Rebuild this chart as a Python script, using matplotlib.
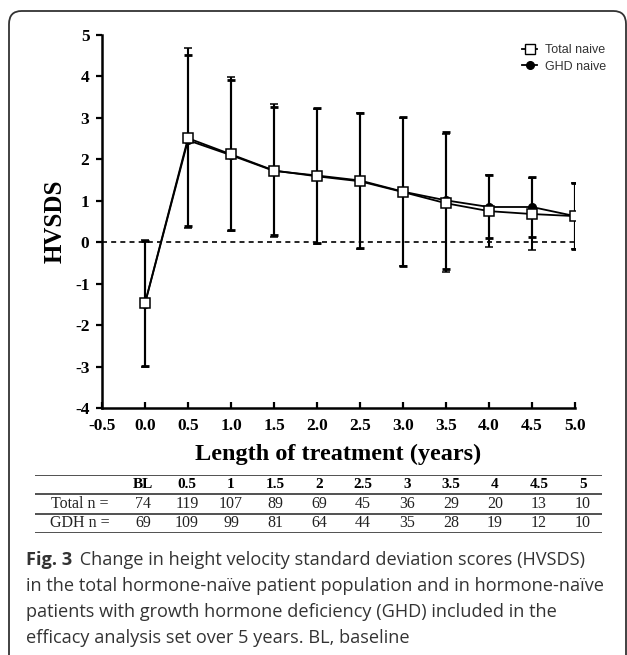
import numpy as np
import matplotlib.pyplot as plt
from matplotlib.patches import FancyBboxPatch
from matplotlib.lines import Line2D

# data
years = [0.0, 0.5, 1.0, 1.5, 2.0, 2.5, 3.0, 3.5, 4.0, 4.5, 5.0]
total_mean = [-1.47, 2.51, 2.12, 1.73, 1.59, 1.47, 1.21, 0.94, 0.75, 0.68, 0.63]
total_sd = [1.53, 2.17, 1.86, 1.61, 1.63, 1.64, 1.79, 1.66, 0.87, 0.87, 0.79]
ghd_mean = [-1.48, 2.46, 2.10, 1.72, 1.61, 1.49, 1.22, 1.01, 0.85, 0.85, 0.63]
ghd_sd = [1.50, 2.06, 1.81, 1.55, 1.63, 1.64, 1.80, 1.66, 0.76, 0.73, 0.79]

col_labels = ["BL", "0.5", "1", "1.5", "2", "2.5", "3", "3.5", "4", "4.5", "5"]
row_labels = ["Total n =", "GDH n ="]
total_n = [74, 119, 107, 89, 69, 45, 36, 29, 20, 13, 10]
ghd_n = [69, 109, 99, 81, 64, 44, 35, 28, 19, 12, 10]

xticks = [-0.5, 0.0, 0.5, 1.0, 1.5, 2.0, 2.5, 3.0, 3.5, 4.0, 4.5, 5.0]
yticks = [-4, -3, -2, -1, 0, 1, 2, 3, 4, 5]

caption_bold = "Fig. 3"
caption_lines = [
    " Change in height velocity standard deviation scores (HVSDS)",
    "in the total hormone-naïve patient population and in hormone-naïve",
    "patients with growth hormone deficiency (GHD) included in the",
    "efficacy analysis set over 5 years. BL, baseline",
]

W, H = 627, 655
fig = plt.figure(figsize=(W / 100, H / 100), dpi=100)
serif = "Liberation Serif"


def fx(px):
    return px / W


def fy(py):
    return 1 - py / H


# rounded frame
frame = FancyBboxPatch((fx(9), fy(680)), fx(626) - fx(9), fy(11) - fy(680),
                       boxstyle="round,pad=0,rounding_size=0.02",
                       transform=fig.transFigure, fill=False,
                       edgecolor="#333333", linewidth=1.3)
fig.add_artist(frame)

ax = fig.add_axes([fx(102), fy(408), fx(575) - fx(102), fy(35) - fy(408)])

ax.axhline(0, color="black", lw=1.2, linestyle=(0, (3, 2.5)), zorder=1)

ax.errorbar(years, ghd_mean, yerr=ghd_sd, color="black", lw=1.3,
            elinewidth=1.5, capsize=3.2, capthick=2.0, marker="o",
            markersize=5.5, markerfacecolor="black", markeredgecolor="black",
            zorder=2)
ax.errorbar(years, total_mean, yerr=total_sd, color="black", lw=1.3,
            elinewidth=1.5, capsize=3.2, capthick=2.0, marker="s",
            markersize=7, markerfacecolor="white", markeredgecolor="black",
            markeredgewidth=1.1, zorder=3)

ax.set_xlim(-0.5, 5.0)
ax.set_ylim(-4, 5)
ax.spines["top"].set_visible(False)
ax.spines["right"].set_visible(False)
ax.spines["left"].set_linewidth(1.8)
ax.spines["bottom"].set_linewidth(1.8)
ax.set_xticks(xticks)
ax.set_xticklabels([f"{t:.1f}" for t in xticks])
ax.set_yticks(yticks)
ax.set_yticklabels([str(t) for t in yticks])
ax.tick_params(axis="x", direction="in", length=4, width=1.6, pad=7)
ax.tick_params(axis="y", direction="out", length=4, width=1.6, pad=5)
for lab in ax.get_xticklabels() + ax.get_yticklabels():
    lab.set_fontfamily(serif)
    lab.set_fontweight("bold")
    lab.set_fontsize(12.5)

ax.set_ylabel("HVSDS", fontfamily=serif, fontweight="bold", fontsize=18)
ax.yaxis.set_label_coords(-0.075, 0.5)
ax.set_xlabel("Length of treatment (years)", fontfamily=serif,
              fontweight="bold", fontsize=17.5)
ax.xaxis.set_label_coords(0.5, -0.095)

h1 = Line2D([], [], color="black", lw=1.3, marker="s", markersize=7,
            markerfacecolor="white", markeredgecolor="black")
h2 = Line2D([], [], color="black", lw=1.3, marker="o", markersize=5.5,
            markerfacecolor="black")
leg = ax.legend([h1, h2], ["Total naive", "GHD naive"], loc="upper left",
                bbox_to_anchor=(0.865, 1.005), frameon=False, handlelength=1.2,
                handletextpad=0.6, labelspacing=0.35,
                prop={"family": "Liberation Sans", "size": 9})
for t in leg.get_texts():
    t.set_color("#333333")

# table of patient numbers
tab = fig.add_axes([fx(35), fy(533), fx(602) - fx(35), fy(475) - fy(533)])
tab.set_xlim((35 - 143) / 44, (602 - 143) / 44)
tab.set_ylim(3, 0)
tab.axis("off")
for yl in [0, 1, 2, 3]:
    tab.axhline(yl, color="#333333", lw=1.2)
for i, c in enumerate(col_labels):
    tab.text(i, 0.5, c, ha="center", va="center", fontfamily=serif,
             fontweight="bold", fontsize=11)
for r, (name, vals) in enumerate(zip(row_labels, [total_n, ghd_n])):
    tab.text((80 - 143) / 44, r + 1.5, name, ha="center", va="center",
             fontfamily=serif, fontsize=11.5, color="#222222")
    for i, v in enumerate(vals):
        tab.text(i, r + 1.5, str(v), ha="center", va="center",
                 fontfamily=serif, fontsize=11.5, color="#222222")

# caption
cap_size = 13.1
line_y = [560, 586, 612, 638]
fig.canvas.draw()
renderer = fig.canvas.get_renderer()
tb = fig.text(fx(26), fy(line_y[0]), caption_bold, fontfamily="Open Sans",
              fontweight="bold", fontsize=cap_size, color="#333333",
              va="center", ha="left")
bb = tb.get_window_extent(renderer=renderer)
fig.text(bb.x1 / (fig.dpi * fig.get_figwidth()) + 0.004, fy(line_y[0]),
         caption_lines[0], fontfamily="Open Sans", fontsize=cap_size,
         color="#333333", va="center", ha="left")
for k in range(1, 4):
    fig.text(fx(26), fy(line_y[k]), caption_lines[k], fontfamily="Open Sans",
             fontsize=cap_size, color="#333333", va="center", ha="left")

fig.savefig("out.png", dpi=100)
